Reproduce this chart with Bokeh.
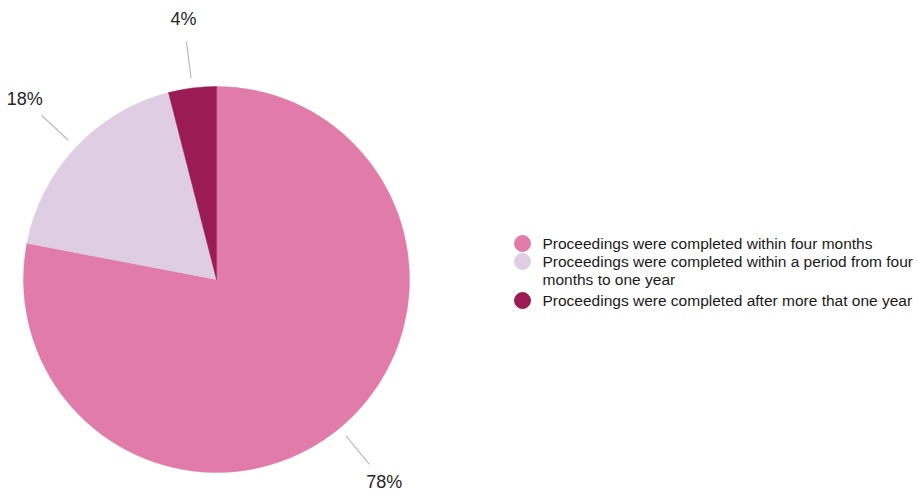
import numpy as np
from bokeh.plotting import figure
from bokeh.models import Range1d, ColumnDataSource
from bokeh.core.properties import value
from bokeh.embed import file_html
from bokeh.resources import INLINE

# ---- data ----
categories = [
    "Proceedings were completed within four months",
    "Proceedings were completed within a period from four\nmonths to one year",
    "Proceedings were completed after more that one year",
]
shares = [78, 18, 4]
pct_labels = ["78%", "18%", "4%"]
colors = ["#E07BAA", "#DFCDE3", "#9B1B54"]

W, H = 918, 494
p = figure(width=W, height=H, output_backend="svg", toolbar_location=None,
           x_range=Range1d(0, W), y_range=Range1d(0, H), min_border=0)
p.axis.visible = False
p.grid.visible = False
p.outline_line_color = None
p.background_fill_color = "white"

cx, cy, R = 216, 215, 193
vals = np.array(shares, dtype=float)
fr = vals / vals.sum()
ends = np.pi / 2 - 2 * np.pi * np.cumsum(fr)
starts = np.concatenate([[np.pi / 2], ends[:-1]])
mids = (starts + ends) / 2

src = ColumnDataSource(dict(start=starts, end=ends, color=colors))
p.wedge(x=cx, y=cy, radius=R, start_angle="start", end_angle="end",
        direction="clock", fill_color="color", line_color="color", line_width=0.5, source=src)

# leader lines and labels
r0, r1, rt = 203, 240, 263
xs = [[cx + r0 * np.cos(m), cx + r1 * np.cos(m)] for m in mids]
ys = [[cy + r0 * np.sin(m), cy + r1 * np.sin(m)] for m in mids]
p.multi_line(xs=xs, ys=ys, line_color="#BBBBBB", line_width=1.2)
p.text(x=[cx + rt * np.cos(m) for m in mids], y=[cy + rt * np.sin(m) for m in mids],
       text=pct_labels, text_font=value("Liberation Sans"), text_font_size="18px",
       text_color="#262626", text_align="center", text_baseline="middle")

# legend (manual)
leg_y = [251, 233, 194]
p.scatter(x=[522] * 3, y=leg_y, size=16, marker="circle", fill_color=colors, line_color=colors)
lx, ly, lt = [], [], []
for lab, y0 in zip(categories, leg_y):
    for i, line in enumerate(lab.split("\n")):
        lx.append(542)
        ly.append(y0 - 18 * i)
        lt.append(line)
p.text(x=lx, y=ly, text=lt, text_font=value("Liberation Sans"), text_font_size="15.5px",
       text_color="#1a1a1a", text_align="left", text_baseline="middle")

open("out.html", "w").write(file_html(p, INLINE))
